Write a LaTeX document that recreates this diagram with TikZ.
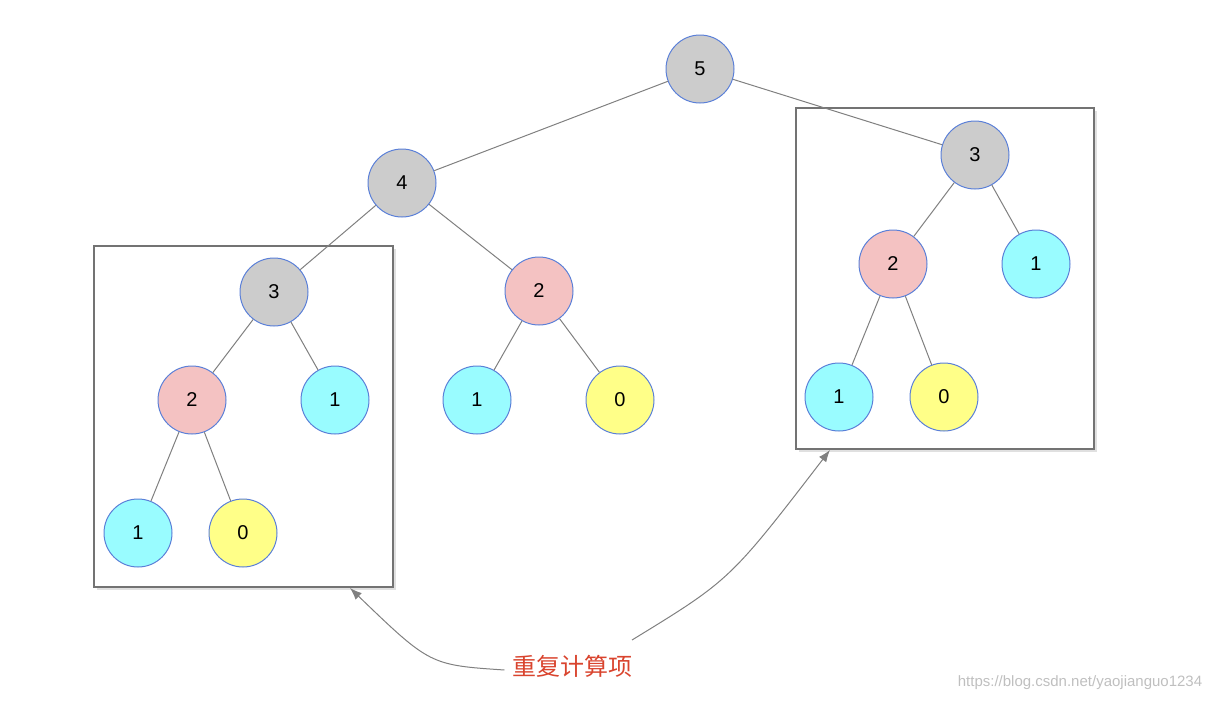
\documentclass[tikz,border=0pt]{standalone}
\usepackage{fontspec}
\setmainfont{Liberation Sans}
\newfontfamily\cjk{Noto Sans CJK SC}
\usetikzlibrary{arrows.meta}
\definecolor{bd}{HTML}{5B80D8}
\definecolor{gr}{HTML}{CCCCCC}
\definecolor{pk}{HTML}{F4C2C2}
\definecolor{cy}{HTML}{99FCFF}
\definecolor{yl}{HTML}{FFFF88}
\definecolor{ln}{HTML}{808080}
\definecolor{rd}{HTML}{D9442E}
\begin{document}
\begin{tikzpicture}[x=1pt,y=-1pt,
 nd/.style={circle,draw=bd,line width=1pt,minimum size=68pt,inner sep=0pt,font=\fontsize{20}{20}\selectfont},
 g/.style={nd,fill=gr},p/.style={nd,fill=pk},c/.style={nd,fill=cy},w/.style={nd,fill=yl},
 ed/.style={draw=ln,line width=1pt},
 bx/.style={draw=ln!90!black,line width=2pt},
 ar/.style={draw=ln,line width=1pt,-{Latex[length=12pt,width=9pt]}}]
\useasboundingbox (0,0) rectangle (1216,702);
\fill[black!12] (97,249) rectangle (396,590);
\draw[bx,fill=white] (94,246) rectangle (393,587);
\fill[black!12] (799,111) rectangle (1097,452);
\draw[bx,fill=white] (796,108) rectangle (1094,449);
\node[g] (n5) at (700,69) {5};
\node[g] (n4) at (402,183) {4};
\node[g] (a3) at (274,292) {3};
\node[p] (m2) at (539,291) {2};
\node[p] (a2) at (192,400) {2};
\node[c] (a1) at (335,400) {1};
\node[c] (m1) at (477,400) {1};
\node[w] (m0) at (620,400) {0};
\node[c] (b1) at (138,533) {1};
\node[w] (b0) at (243,533) {0};
\node[g] (r3) at (975,155) {3};
\node[p] (r2) at (893,264) {2};
\node[c] (r1) at (1036,264) {1};
\node[c] (s1) at (839,397) {1};
\node[w] (s0) at (944,397) {0};
\foreach \a/\b in {n5/n4,n5/r3,n4/a3,n4/m2,a3/a2,a3/a1,m2/m1,m2/m0,a2/b1,a2/b0,r3/r2,r3/r1,r2/s1,r2/s0}
  \draw[ed] (\a) -- (\b);
\node[text=rd,font=\cjk\fontsize{24}{24}\selectfont] (lab) at (572,666) {重复计算项};
\coordinate (t1) at (350,588);
\coordinate (t2) at (830,450);
\draw[ar] (lab.west) ++(-4,4) .. controls (430,665) .. (t1);
\draw[ar] (632,640) .. controls (730,580) .. (t2);
\node[text=black!25,font=\fontsize{15}{15}\selectfont] (wm) at (1080,683) {https://blog.csdn.net/yaojianguo1234};
\end{tikzpicture}
\end{document}
